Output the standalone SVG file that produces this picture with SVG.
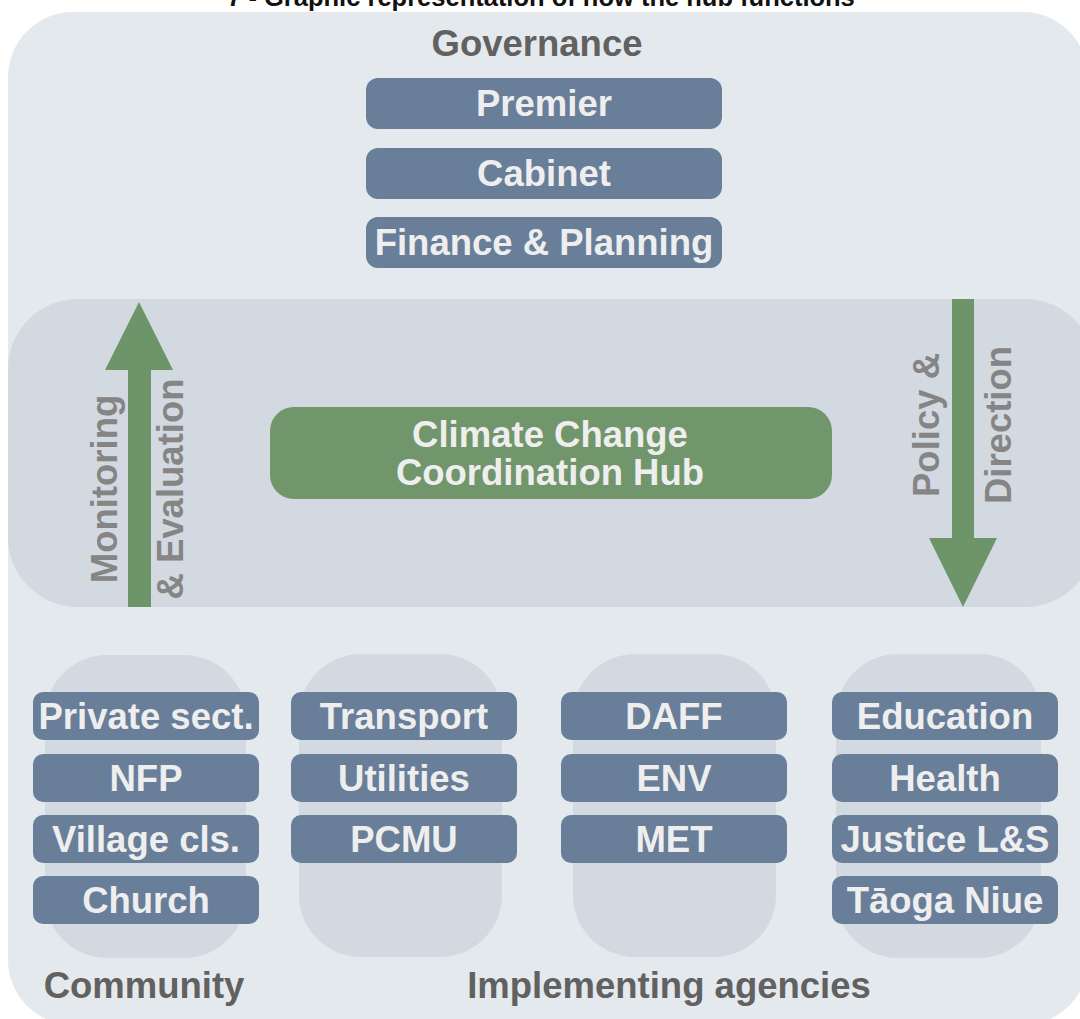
<svg xmlns="http://www.w3.org/2000/svg" width="1080" height="1019" viewBox="0 0 1080 1019">
  <style>
    .t { font-family: "Liberation Sans", Arial, sans-serif; font-weight: bold; text-anchor: middle; }
    .title { font-size: 25.5px; fill: #111111; }
    .head { font-size: 36.5px; fill: #616161; }
    .flow { font-size: 36.5px; fill: #858585; }
    .box { fill: #687e99; }
    .lbl { font-size: 36.5px; fill: #eeeeee; }
    .lane { fill: #d3d9e0; }
    .hub { fill: #71966b; }
    .arrow { fill: #6e9469; }
  </style>

  <!-- page background -->
  <rect x="0" y="0" width="1080" height="1019" fill="#ffffff"/>
  <text class="t title" x="541" y="6">7 - Graphic representation of how the hub functions</text>
  <rect x="8" y="12" width="1080" height="1013" rx="65" fill="#e4e9ed"/>

  <!-- middle band holding the hub -->
  <rect x="8" y="299" width="1087" height="308" rx="70" class="lane"/>

  <!-- governance -->
  <g id="governance">
    <text class="t head" x="537" y="56">Governance</text>
    <g id="premier">
      <rect x="366" y="78" width="356" height="51" rx="12" class="box"/>
      <text class="t lbl" x="544" y="116">Premier</text>
    </g>
    <g id="cabinet">
      <rect x="366" y="148" width="356" height="51" rx="12" class="box"/>
      <text class="t lbl" x="544" y="186">Cabinet</text>
    </g>
    <g id="finance-planning">
      <rect x="366" y="217" width="356" height="51" rx="12" class="box"/>
      <text class="t lbl" x="544" y="255">Finance &amp; Planning</text>
    </g>
  </g>

  <!-- hub -->
  <g id="hub">
    <rect x="270" y="407" width="562" height="92" rx="24" class="hub"/>
    <text class="t lbl" x="550" y="447">Climate Change</text>
    <text class="t lbl" x="550" y="485">Coordination Hub</text>
  </g>

  <!-- flows between tiers -->
  <g id="connectors">
    <g id="monitoring-evaluation">
      <polygon class="arrow" points="128,607 128,370 105,370 139,302 173,370 151,370 151,607"/>
      <text class="t flow" transform="translate(117,489) rotate(-90)">Monitoring</text>
      <text class="t flow" transform="translate(183,489) rotate(-90)">&amp; Evaluation</text>
    </g>
    <g id="policy-direction">
      <polygon class="arrow" points="952,299 974,299 974,538 997,538 963,607 929,538 952,538"/>
      <text class="t flow" transform="translate(939,425) rotate(-90)">Policy &amp;</text>
      <text class="t flow" transform="translate(1011,425) rotate(-90)">Direction</text>
    </g>
  </g>

  <!-- community -->
  <g id="community">
    <rect x="45" y="655" width="201" height="303" rx="62" class="lane"/>
    <g id="private-sector">
      <rect x="33" y="692" width="226" height="48" rx="10" class="box"/>
      <text class="t lbl" x="146" y="729">Private sect.</text>
    </g>
    <g id="nfp">
      <rect x="33" y="754" width="226" height="48" rx="10" class="box"/>
      <text class="t lbl" x="146" y="791">NFP</text>
    </g>
    <g id="village-councils">
      <rect x="33" y="815" width="226" height="48" rx="10" class="box"/>
      <text class="t lbl" x="146" y="852">Village cls.</text>
    </g>
    <g id="church">
      <rect x="33" y="876" width="226" height="48" rx="10" class="box"/>
      <text class="t lbl" x="146" y="913">Church</text>
    </g>
    <text class="t head" x="144" y="998">Community</text>
  </g>

  <!-- implementing agencies -->
  <g id="agencies-infrastructure">
    <rect x="299" y="654" width="203" height="303" rx="62" class="lane"/>
    <g id="transport">
      <rect x="291" y="692" width="226" height="48" rx="10" class="box"/>
      <text class="t lbl" x="404" y="729">Transport</text>
    </g>
    <g id="utilities">
      <rect x="291" y="754" width="226" height="48" rx="10" class="box"/>
      <text class="t lbl" x="404" y="791">Utilities</text>
    </g>
    <g id="pcmu">
      <rect x="291" y="815" width="226" height="48" rx="10" class="box"/>
      <text class="t lbl" x="404" y="852">PCMU</text>
    </g>
  </g>

  <g id="agencies-environment">
    <rect x="573" y="654" width="203" height="303" rx="62" class="lane"/>
    <g id="daff">
      <rect x="561" y="692" width="226" height="48" rx="10" class="box"/>
      <text class="t lbl" x="674" y="729">DAFF</text>
    </g>
    <g id="env">
      <rect x="561" y="754" width="226" height="48" rx="10" class="box"/>
      <text class="t lbl" x="674" y="791">ENV</text>
    </g>
    <g id="met">
      <rect x="561" y="815" width="226" height="48" rx="10" class="box"/>
      <text class="t lbl" x="674" y="852">MET</text>
    </g>
  </g>

  <g id="agencies-social">
    <rect x="836" y="654" width="205" height="304" rx="62" class="lane"/>
    <g id="education">
      <rect x="832" y="692" width="226" height="48" rx="10" class="box"/>
      <text class="t lbl" x="945" y="729">Education</text>
    </g>
    <g id="health">
      <rect x="832" y="754" width="226" height="48" rx="10" class="box"/>
      <text class="t lbl" x="945" y="791">Health</text>
    </g>
    <g id="justice">
      <rect x="832" y="815" width="226" height="48" rx="10" class="box"/>
      <text class="t lbl" x="945" y="852">Justice L&amp;S</text>
    </g>
    <g id="taoga-niue">
      <rect x="832" y="876" width="226" height="48" rx="10" class="box"/>
      <text class="t lbl" x="945" y="913">Tāoga Niue</text>
    </g>
  </g>

  <text class="t head" x="669" y="998">Implementing agencies</text>
</svg>
